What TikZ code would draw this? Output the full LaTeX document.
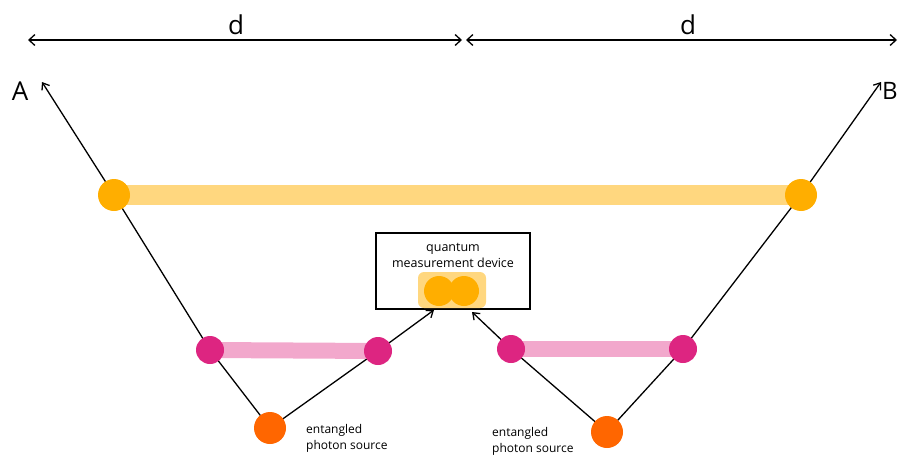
\documentclass[tikz,border=0pt]{standalone}
\usepackage{fontspec}
\setmainfont{Open Sans}
\usetikzlibrary{arrows.meta}
\definecolor{goldbar}{HTML}{FFD77F}
\definecolor{golddot}{HTML}{FFAE00}
\definecolor{pinkbar}{HTML}{F2A8CC}
\definecolor{pinkdot}{HTML}{DD2581}
\definecolor{srcdot}{HTML}{FF6600}
\begin{document}
\begin{tikzpicture}[x=1pt,y=-1pt,
  ray/.style={line width=1.3pt,black},
  tip/.style={-{Straight Barb[length=6pt,width=9pt,line width=1.3pt]}},
  gdot/.style={circle,fill=golddot,minimum size=32pt,inner sep=0pt},
  pdot/.style={circle,fill=pinkdot,minimum size=28pt,inner sep=0pt},
  sdot/.style={circle,fill=srcdot,minimum size=32pt,inner sep=0pt},
  lbl/.style={font=\fontsize{12}{16}\selectfont,align=left,anchor=north west,inner sep=0pt},
  big/.style={font=\fontsize{26}{28}\selectfont,inner sep=0pt}]
\useasboundingbox (0,0) rectangle (899,463);
% distance markers
\coordinate (m0) at (28,40);
\coordinate (m1) at (462,40);
\coordinate (m2) at (466,40);
\coordinate (m3) at (897,40);
\draw[ray,{Straight Barb[length=6pt,width=11pt,line width=1.3pt]}-{Straight Barb[length=6pt,width=11pt,line width=1.3pt]}] (m0) -- (m1);
\draw[ray,{Straight Barb[length=6pt,width=11pt,line width=1.3pt]}-{Straight Barb[length=6pt,width=11pt,line width=1.3pt]}] (m2) -- (m3);
\node[big] (d1) at (236,25) {d};
\node[big] (d2) at (688,25) {d};
% end points
\coordinate (ta) at (42,82);
\coordinate (tb) at (881,82);
\node[big] (la) at (20,91) {A};
\node[big,anchor=west,font=\fontsize{24}{26}\selectfont] (lb) at (882,91) {B};
% sources and dots
\coordinate (sl) at (270,428);
\coordinate (sr) at (607,432);
\coordinate (yl) at (114,195);
\coordinate (yr) at (801,195);
\coordinate (pl1) at (210,350);
\coordinate (pl2) at (378,351);
\coordinate (pr1) at (511,349);
\coordinate (pr2) at (683,349);
% measurement box
\node[draw,line width=1.3pt,minimum width=154pt,minimum height=76pt,inner sep=0pt] (box) at (453,271) {};
\node[font=\fontsize{12.5}{16}\selectfont,align=center,inner sep=0pt] (boxtxt) at (453,255) {quantum\\measurement device};
\coordinate (al) at (434,310);
\coordinate (ar) at (472,312);
% world lines
\draw[ray,tip] (sl) -- (pl1) -- (yl) -- (ta);
\draw[ray,tip] (sr) -- (pr2) -- (yr) -- (tb);
\draw[ray,tip] (sl) -- (pl2) -- (al);
\draw[ray,tip] (sr) -- (pr1) -- (ar);
% entanglement bars
\draw[goldbar,line width=20pt] (yl) -- (yr);
\draw[pinkbar,line width=16pt] (pl1) -- (pl2);
\draw[pinkbar,line width=16pt] (pr1) -- (pr2);
\fill[goldbar,rounded corners=6pt] (418,272) rectangle (486,308);
\node[gdot] (ny1) at (yl) {};
\node[gdot] (ny2) at (yr) {};
\node[pdot] (np1) at (pl1) {};
\node[pdot] (np2) at (pl2) {};
\node[pdot] (np3) at (pr1) {};
\node[pdot] (np4) at (pr2) {};
\node[sdot] (ns1) at (sl) {};
\node[sdot] (ns2) at (sr) {};
\node[circle,fill=golddot,minimum size=30pt,inner sep=0pt] (q1) at (439,291) {};
\node[circle,fill=golddot,minimum size=30pt,inner sep=0pt] (q2) at (464,291) {};
\draw[line width=1.3pt] (box.south west) -- (box.south east);
% labels
\node[lbl] (src1) at (306,424) {entangled\\photon source};
\node[lbl] (src2) at (492,427) {entangled\\photon source};
\end{tikzpicture}
\end{document}
